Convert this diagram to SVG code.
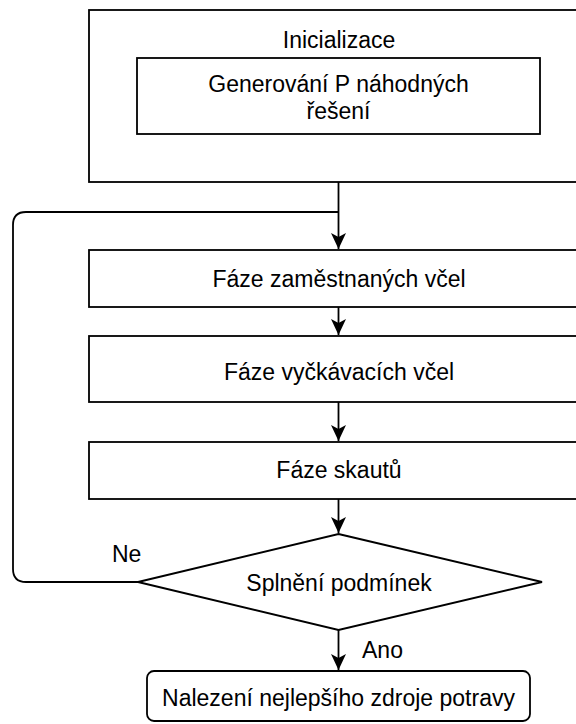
<svg xmlns="http://www.w3.org/2000/svg" width="576" height="724" viewBox="0 0 576 724">
<style>
.box{fill:#fff;stroke:#000;stroke-width:1.8}
.ln{fill:none;stroke:#000;stroke-width:1.8}
text{font-family:"Liberation Sans",Arial,sans-serif;font-size:23px;fill:#000}
.c{text-anchor:middle}
</style>
<defs>
<marker id="arr" markerWidth="18" markerHeight="16" refX="16" refY="8" orient="auto" markerUnits="userSpaceOnUse">
<path d="M0,0.5 L16,8 L0,15.5 L4,8 Z" fill="#000"/>
</marker>
</defs>
<rect width="576" height="724" fill="#fff"/>
<g id="connectors">
<line class="ln" x1="338.5" y1="182" x2="338.5" y2="249" marker-end="url(#arr)"/>
<path class="ln" d="M138,582 L26,582 Q13,582 13,569 L13,225 Q13,212 26,212 L338.5,212"/>
<line class="ln" x1="338.5" y1="307" x2="338.5" y2="335" marker-end="url(#arr)"/>
<line class="ln" x1="338.5" y1="402" x2="338.5" y2="441" marker-end="url(#arr)"/>
<line class="ln" x1="338.5" y1="499" x2="338.5" y2="533" marker-end="url(#arr)"/>
<line class="ln" x1="338.5" y1="630" x2="338.5" y2="670" marker-end="url(#arr)"/>
<text x="112" y="562">Ne</text>
<text x="362" y="658">Ano</text>
</g>
<g id="init">
<rect class="box" x="89" y="10" width="499" height="172"/>
<text class="c" x="339" y="48">Inicializace</text>
</g>
<g id="generate">
<rect class="box" x="137" y="58" width="403" height="76"/>
<text class="c" x="338.5" y="92">Generování P náhodných</text>
<text class="c" x="338.5" y="119">řešení</text>
</g>
<g id="employed">
<rect class="box" x="89" y="250" width="499" height="57"/>
<text class="c" x="339" y="287">Fáze zaměstnaných včel</text>
</g>
<g id="onlooker">
<rect class="box" x="89" y="336" width="499" height="66"/>
<text class="c" x="339" y="380">Fáze vyčkávacích včel</text>
</g>
<g id="scout">
<rect class="box" x="89" y="442" width="499" height="57"/>
<text class="c" x="339" y="478">Fáze skautů</text>
</g>
<g id="condition">
<polygon class="box" points="338.5,534 542,582 338.5,630 138,582"/>
<text class="c" x="339" y="591">Splnění podmínek</text>
</g>
<g id="result">
<rect class="box" x="147" y="671" width="383" height="50" rx="7"/>
<text class="c" x="338.5" y="706">Nalezení nejlepšího zdroje potravy</text>
</g>
</svg>
